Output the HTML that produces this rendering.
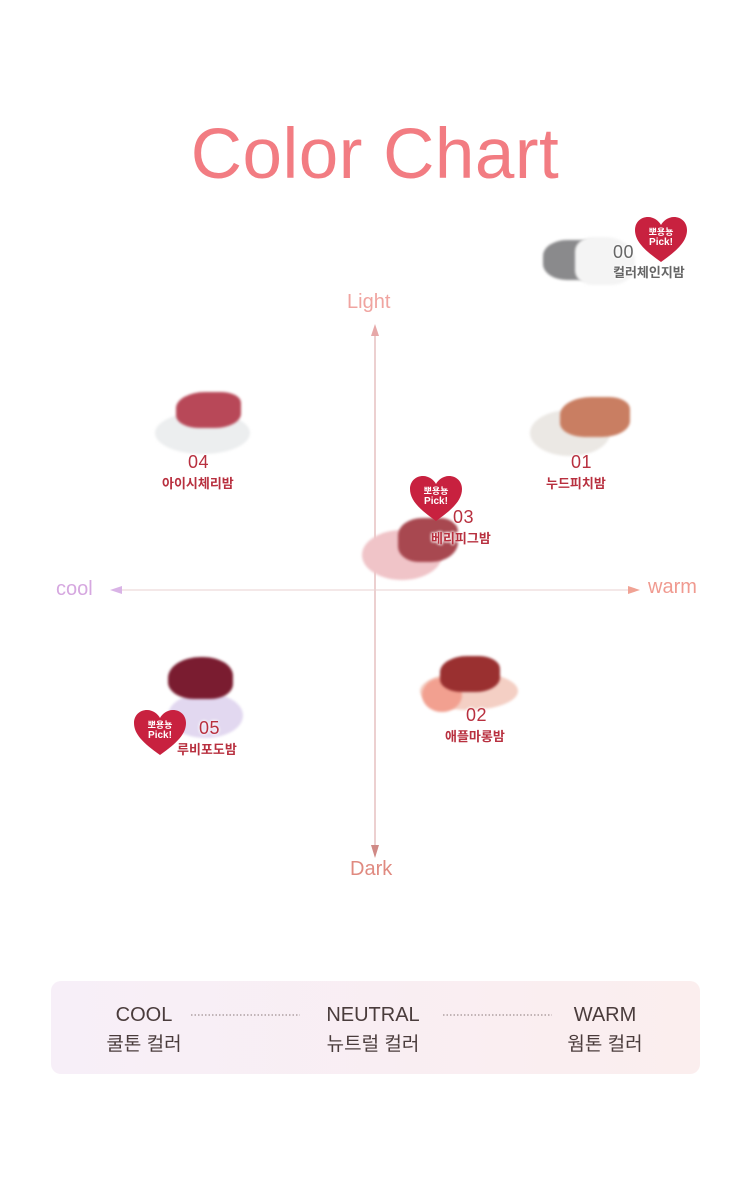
<!DOCTYPE html>
<html><head><meta charset="utf-8">
<style>
*{margin:0;padding:0;box-sizing:border-box}
body{width:750px;height:1201px;background:#fff;position:relative;overflow:hidden;font-family:"Liberation Sans","Noto Sans CJK KR",sans-serif}
.a{position:absolute}
.sw{position:absolute;border-radius:50%;filter:blur(1.2px)}
.num{position:absolute;font-size:18px;color:#b8303f;letter-spacing:0.5px;text-shadow:0 0 3px #fff,0 0 3px #fff}
.kr{position:absolute;font-size:13px;color:#b8303f;font-weight:bold;text-shadow:0 0 3px #fff,0 0 3px #fff,0 0 2px #fff}
.heart{position:absolute;width:54px;height:48px}
.heart span{position:absolute;left:0;width:54px;text-align:center;color:#fff;font-weight:bold;font-size:9px;line-height:10px}
</style></head><body>
<div class="a" style="left:0;top:114px;width:750px;text-align:center;font-size:71px;color:#f27c82;letter-spacing:0.5px">Color Chart</div>

<svg class="a" style="left:0;top:0" width="750" height="1201">
<line x1="375" y1="334" x2="375" y2="848" stroke="#d9a0a0" stroke-width="1"/>
<polygon points="375,324 371,336 379,336" fill="#e6a8a8"/>
<polygon points="375,858 371,845 379,845" fill="#d08a86"/>
<line x1="118" y1="590" x2="632" y2="590" stroke="#ead2d2" stroke-width="1"/>
<polygon points="110,590 122,586 122,594" fill="#d9b3e6"/>
<polygon points="640,590 628,586 628,594" fill="#f0a294"/>
</svg>
<div class="a" style="left:347px;top:291px;font-size:20px;color:#f0a4a0">Light</div>
<div class="a" style="left:350px;top:858px;font-size:20px;color:#e08a80">Dark</div>
<div class="a" style="left:56px;top:578px;font-size:20px;color:#d6a8e0">cool</div>
<div class="a" style="left:648px;top:576px;font-size:20px;color:#f09a90">warm</div>

<!-- 00 -->
<div class="sw" style="left:543px;top:240px;width:60px;height:40px;background:#8a8a8c;border-radius:40% 20% 30% 40%"></div>
<div class="sw" style="left:575px;top:237px;width:60px;height:48px;background:#f4f4f4;border-radius:30% 50% 40% 30%"></div>
<div class="num" style="left:613px;top:242px;color:#666">00</div>
<div class="kr" style="left:613px;top:262px;color:#666">컬러체인지밤</div>

<!-- 04 -->
<div class="sw" style="left:155px;top:412px;width:95px;height:42px;background:#eceeef"></div>
<div class="sw" style="left:176px;top:392px;width:65px;height:36px;background:#b84858;border-radius:45% 30% 40% 35%"></div>
<div class="num" style="left:188px;top:452px">04</div>
<div class="kr" style="left:162px;top:473px">아이시체리밤</div>

<!-- 01 -->
<div class="sw" style="left:530px;top:410px;width:80px;height:46px;background:#ebe8e4"></div>
<div class="sw" style="left:560px;top:397px;width:70px;height:40px;background:#c97e62;border-radius:45% 30% 40% 35%"></div>
<div class="num" style="left:571px;top:452px">01</div>
<div class="kr" style="left:546px;top:473px">누드피치밤</div>

<!-- 03 -->
<div class="sw" style="left:362px;top:530px;width:80px;height:50px;background:#f0c4c8"></div>
<div class="sw" style="left:398px;top:518px;width:60px;height:44px;background:#a84850;border-radius:40% 30% 45% 35%"></div>
<div class="num" style="left:453px;top:507px">03</div>
<div class="kr" style="left:431px;top:528px">베리피그밤</div>

<!-- 02 -->
<div class="sw" style="left:420px;top:672px;width:98px;height:38px;background:#f4cfc4"></div>
<div class="sw" style="left:422px;top:678px;width:40px;height:34px;background:#f2a090"></div>
<div class="sw" style="left:440px;top:656px;width:60px;height:36px;background:#9a3030;border-radius:45% 35% 40% 35%"></div>
<div class="num" style="left:466px;top:705px">02</div>
<div class="kr" style="left:445px;top:726px">애플마롱밤</div>

<!-- 05 -->
<div class="sw" style="left:168px;top:693px;width:75px;height:45px;background:#e2d8f0"></div>
<div class="sw" style="left:168px;top:657px;width:65px;height:42px;background:#7a1c30;border-radius:50% 45% 35% 40%"></div>
<div class="num" style="left:199px;top:718px">05</div>
<div class="kr" style="left:177px;top:739px">루비포도밤</div>

<svg width="0" height="0" style="position:absolute"><defs><path id="h" d="M27 46 C10 34 1 25 1 14 C1 6 7 1 14 1 C20 1 25 5 27 9 C29 5 34 1 40 1 C47 1 53 6 53 14 C53 25 44 34 27 46Z" fill="#c8213f"/></defs></svg>
<div class="heart" style="left:634px;top:216px"><svg width="54" height="48"><use href="#h"/></svg><span style="top:11px">뽀용뇽</span><span style="top:22px;font-size:10px">Pick!</span></div>
<div class="heart" style="left:409px;top:475px"><svg width="54" height="48"><use href="#h"/></svg><span style="top:11px">뽀용뇽</span><span style="top:22px;font-size:10px">Pick!</span></div>
<div class="heart" style="left:133px;top:709px"><svg width="54" height="48"><use href="#h"/></svg><span style="top:11px">뽀용뇽</span><span style="top:22px;font-size:10px">Pick!</span></div>

<!-- legend -->
<div class="a" style="left:51px;top:981px;width:649px;height:93px;border-radius:10px;background:linear-gradient(90deg,#f7eff8,#fbeeee)"></div>
<svg class="a" style="left:0;top:0" width="750" height="1201">
<line x1="191" y1="1015" x2="300" y2="1015" stroke="#8a7a7a" stroke-width="1" stroke-dasharray="1.5,2"/>
<line x1="443" y1="1015" x2="552" y2="1015" stroke="#8a7a7a" stroke-width="1" stroke-dasharray="1.5,2"/>
</svg>
<div class="a" style="left:84px;top:1004px;width:120px;text-align:center;font-size:20px;color:#4a3c3c">COOL</div>
<div class="a" style="left:84px;top:1029px;width:120px;text-align:center;font-size:19px;color:#4a3c3c">쿨톤 컬러</div>
<div class="a" style="left:313px;top:1004px;width:120px;text-align:center;font-size:20px;color:#4a3c3c">NEUTRAL</div>
<div class="a" style="left:313px;top:1029px;width:120px;text-align:center;font-size:19px;color:#4a3c3c">뉴트럴 컬러</div>
<div class="a" style="left:545px;top:1004px;width:120px;text-align:center;font-size:20px;color:#4a3c3c">WARM</div>
<div class="a" style="left:545px;top:1029px;width:120px;text-align:center;font-size:19px;color:#4a3c3c">웜톤 컬러</div>
</body></html>
